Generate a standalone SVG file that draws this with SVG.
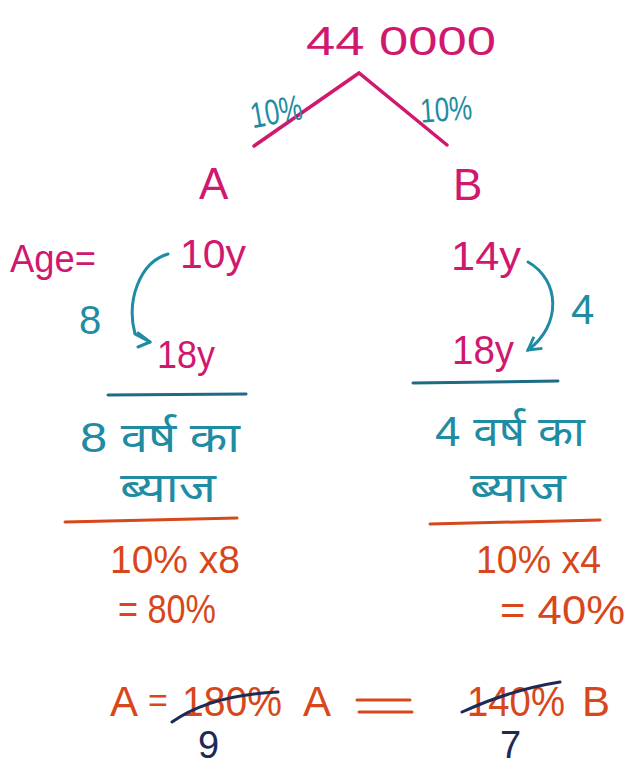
<svg xmlns="http://www.w3.org/2000/svg" width="642" height="767" viewBox="0 0 642 767">
<defs>
<style>
.t{font-family:"Liberation Sans","Noto Sans","DejaVu Sans",sans-serif;}
.m{fill:#d0186e;}
.c{fill:#1f8ca3;}
.o{fill:#d8471c;}
.n{fill:#1d2a55;}
.lm{stroke:#d0186e;stroke-width:3.5;fill:none;stroke-linecap:round;}
.lc{stroke:#1f8ca3;stroke-width:3;fill:none;stroke-linecap:round;stroke-linejoin:round;}
.lt{stroke:#1e6b86;stroke-width:3;fill:none;stroke-linecap:round;}
.lo{stroke:#d8471c;stroke-width:3;fill:none;stroke-linecap:round;}
.ln{stroke:#1d2a55;stroke-width:3;fill:none;stroke-linecap:round;}
</style>
<marker id="ah" viewBox="0 0 10 10" refX="8" refY="5" markerWidth="6" markerHeight="6" orient="auto" markerUnits="strokeWidth">
<path d="M1,1 L8,5 L1,9" fill="none" stroke="#1f8ca3" stroke-width="1.6"/>
</marker>
</defs>
<rect width="642" height="767" fill="#ffffff"/>

<g id="root"><text class="t m" x="306" y="55" font-size="40" textLength="190" lengthAdjust="spacingAndGlyphs">44 0000</text></g>

<g id="connectors">
<path class="lm" d="M254,146 L359,73 L447,145"/>
<path class="lc" d="M168,254 C140,262 126,300 135,334 L150,342" />
<path class="lc" d="M528,262 C560,280 562,325 528,350" marker-end="url(#ah)"/>
<path class="lc" d="M138,333 L150,342 L138,347"/>
</g>

<g id="rate-left"><text class="t c" x="250" y="124" font-size="36" textLength="52" lengthAdjust="spacingAndGlyphs" transform="rotate(-10 275 110)">10%</text></g>
<g id="rate-right"><text class="t c" x="420" y="121" font-size="34" textLength="52" lengthAdjust="spacingAndGlyphs" transform="rotate(-4 445 108)">10%</text></g>

<g id="nodeA"><text class="t m" x="199" y="199" font-size="44">A</text></g>
<g id="nodeB"><text class="t m" x="453" y="200" font-size="44">B</text></g>

<g id="age-label"><text class="t m" x="10" y="272" font-size="38" textLength="86" lengthAdjust="spacingAndGlyphs">Age=</text></g>

<g id="A-ages">
<text class="t m" x="180" y="268" font-size="40" textLength="66" lengthAdjust="spacingAndGlyphs">10y</text>
<text class="t m" x="157" y="368" font-size="38" textLength="58" lengthAdjust="spacingAndGlyphs">18y</text>
<text class="t c" x="79" y="334" font-size="40">8</text>
</g>

<g id="B-ages">
<text class="t m" x="451" y="270" font-size="40" textLength="70" lengthAdjust="spacingAndGlyphs">14y</text>
<text class="t m" x="452" y="364" font-size="40" textLength="62" lengthAdjust="spacingAndGlyphs">18y</text>
<text class="t c" x="571" y="324" font-size="42">4</text>
</g>

<g id="A-interest">
<line class="lt" x1="108" y1="395" x2="246" y2="394"/>
<text class="t c" x="80" y="452" font-size="42" textLength="160" lengthAdjust="spacingAndGlyphs">8 वर्ष का</text>
<text class="t c" x="120" y="502" font-size="42" textLength="96" lengthAdjust="spacingAndGlyphs">ब्याज</text>
<line class="lo" x1="65" y1="522" x2="237" y2="518"/>
<text class="t o" x="110" y="573" font-size="38" textLength="130" lengthAdjust="spacingAndGlyphs">10% x8</text>
<text class="t o" x="118" y="623" font-size="40" textLength="98" lengthAdjust="spacingAndGlyphs">= 80%</text>
</g>

<g id="B-interest">
<line class="lt" x1="413" y1="383" x2="558" y2="381"/>
<text class="t c" x="435" y="446" font-size="42" textLength="150" lengthAdjust="spacingAndGlyphs">4 वर्ष का</text>
<text class="t c" x="470" y="502" font-size="42" textLength="96" lengthAdjust="spacingAndGlyphs">ब्याज</text>
<line class="lo" x1="430" y1="524" x2="600" y2="520"/>
<text class="t o" x="476" y="573" font-size="38" textLength="125" lengthAdjust="spacingAndGlyphs">10% x4</text>
<text class="t o" x="500" y="624" font-size="40" textLength="125" lengthAdjust="spacingAndGlyphs">= 40%</text>
</g>

<g id="result">
<text class="t o" x="110" y="716" font-size="42">A</text>
<text class="t o" x="148" y="712" font-size="34">=</text>
<text class="t o" x="182" y="716" font-size="42" textLength="100" lengthAdjust="spacingAndGlyphs">180%</text>
<text class="t o" x="303" y="716" font-size="42">A</text>
<line class="lo" x1="357" y1="700" x2="410" y2="700"/>
<line class="lo" x1="359" y1="712" x2="412" y2="712"/>
<text class="t o" x="467" y="716" font-size="42" textLength="98" lengthAdjust="spacingAndGlyphs">140%</text>
<text class="t o" x="582" y="716" font-size="42">B</text>
<path class="ln" d="M172,722 Q210,695 278,692"/>
<path class="ln" d="M462,712 Q510,690 560,682"/>
<text class="t n" x="198" y="758" font-size="38">9</text>
<text class="t n" x="500" y="758" font-size="38">7</text>
</g>
</svg>
